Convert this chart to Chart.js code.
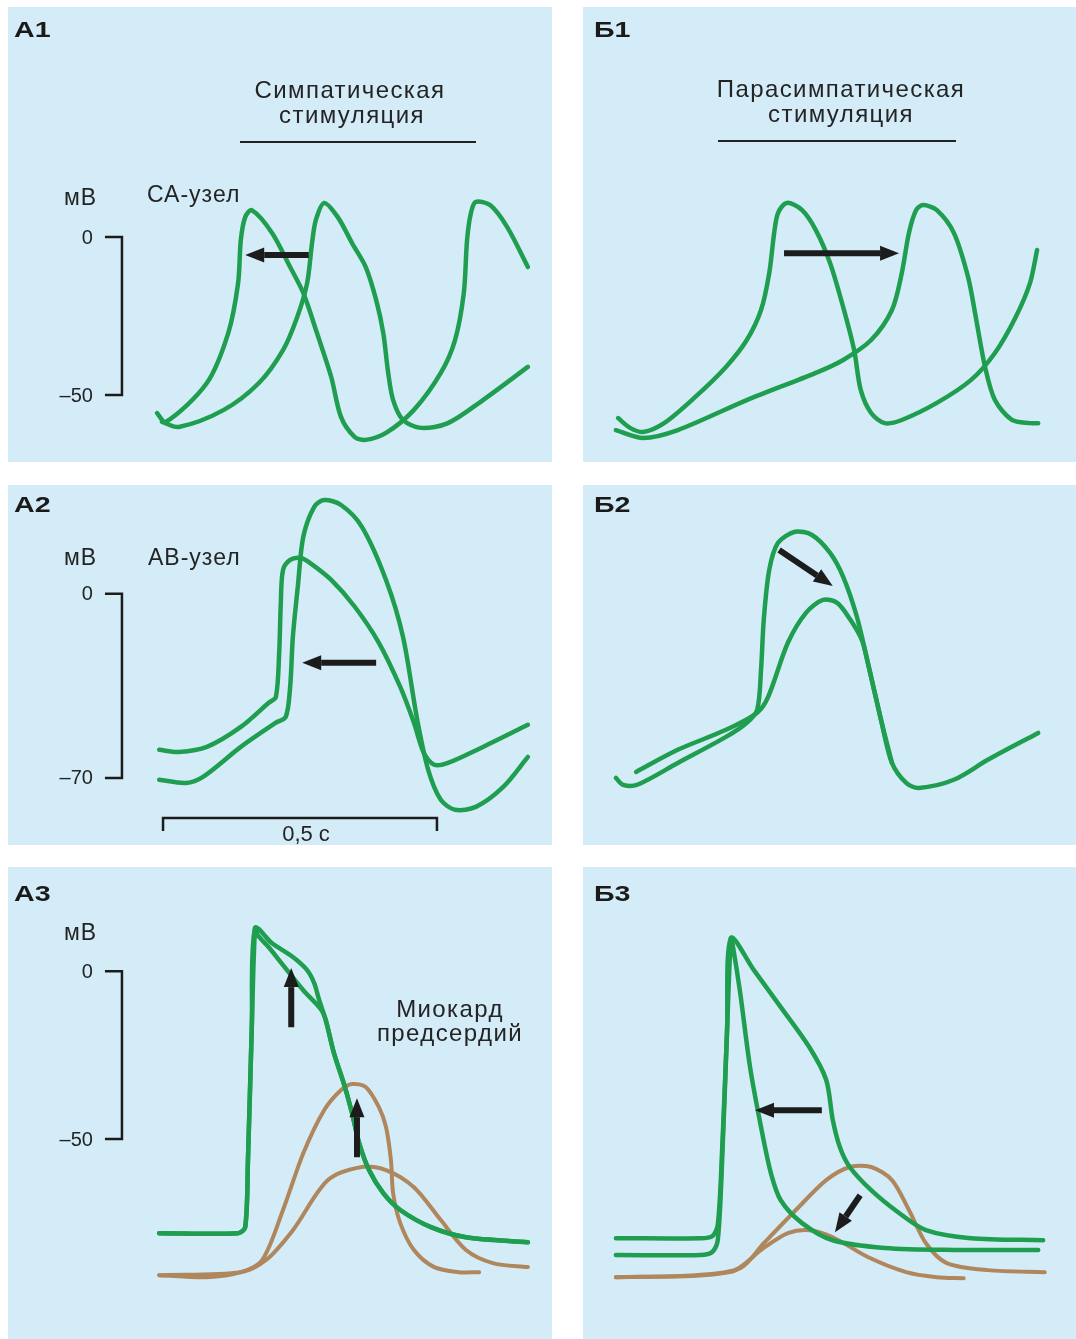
<!DOCTYPE html>
<html lang="ru">
<head>
<meta charset="utf-8">
<title>Потенциалы действия при вегетативной стимуляции</title>
<script src="https://cdn.jsdelivr.net/npm/chart.js@4.4.1/dist/chart.umd.min.js"></script>
<style>
  html, body { margin: 0; padding: 0; background: #fff; }
  body { width: 1076px; height: 1339px; position: relative; overflow: hidden;
         font-family: "Liberation Sans", Arial, Helvetica, sans-serif; color: #242424; }
  .panel { position: absolute; background: #d3ecf8; }
  .panel canvas { position: absolute; left: 0; top: 0; }
  .lbl { position: absolute; white-space: nowrap; line-height: 1; }
  .tag { font-weight: bold; font-size: 22px; color: #1a1a1a; transform: scaleX(1.3); transform-origin: left top; }
  .cap { font-size: 24px; letter-spacing: 1.4px; transform: translateX(-50%); }
  .unit { font-size: 23px; letter-spacing: 1px; }
  .stim { position: absolute; height: 2px; background: #222; }
</style>
</head>
<body>

<div class="panel" style="left:8px;top:7px;width:544px;height:455px"><canvas id="a1" width="544" height="455"></canvas></div>
<div class="panel" style="left:583px;top:7px;width:493px;height:455px"><canvas id="b1" width="493" height="455"></canvas></div>
<div class="panel" style="left:8px;top:485px;width:544px;height:360px"><canvas id="a2" width="544" height="360"></canvas></div>
<div class="panel" style="left:583px;top:485px;width:493px;height:360px"><canvas id="b2" width="493" height="360"></canvas></div>
<div class="panel" style="left:8px;top:867px;width:544px;height:472px"><canvas id="a3" width="544" height="472"></canvas></div>
<div class="panel" style="left:583px;top:867px;width:493px;height:472px"><canvas id="b3" width="493" height="472"></canvas></div>

<div class="lbl tag" style="left:14px;top:19px">А1</div>
<div class="lbl tag" style="left:594px;top:19px">Б1</div>
<div class="lbl tag" style="left:14px;top:494px">А2</div>
<div class="lbl tag" style="left:594px;top:494px">Б2</div>
<div class="lbl tag" style="left:14px;top:883px">А3</div>
<div class="lbl tag" style="left:594px;top:883px">Б3</div>

<div class="lbl cap" style="left:350px;top:78px">Симпатическая</div>
<div class="lbl cap" style="left:352px;top:103px">стимуляция</div>
<div class="stim" style="left:240px;top:141px;width:236px"></div>

<div class="lbl cap" style="left:841px;top:77px">Парасимпатическая</div>
<div class="lbl cap" style="left:841px;top:102px">стимуляция</div>
<div class="stim" style="left:718px;top:140px;width:238px"></div>

<div class="lbl unit" style="left:64px;top:186px">мВ</div>
<div class="lbl unit" style="left:147px;top:183px">СА-узел</div>
<div class="lbl unit" style="left:64px;top:546px">мВ</div>
<div class="lbl unit" style="left:148px;top:546px">АВ-узел</div>
<div class="lbl unit" style="left:64px;top:921px">мВ</div>
<div class="lbl cap" style="left:450px;top:997px">Миокард</div>
<div class="lbl cap" style="left:450px;top:1021px">предсердий</div>

<script>
// Время в мс (0 = начало отметки 0,5 с), потенциал в мВ.
// Коричневые кривые - сила сокращения, в тех же условных единицах по вертикали.

const GREEN = "#1f9e50";
const BROWN = "#b0875c";
const INK = "#1c1c1c";

// границы шкал для каждой колонки / строки
const xRangeA = [-283, 710];
const xRangeB = [-283, 617];
const yRangeRow1 = [-71.2, 72.8];
const yRangeRow2 = [-95.5, 41.4];
const yRangeRow3 = [-109.5, 31.0];

const ticksRow1 = [0, -50];
const ticksRow2 = [0, -70];
const ticksRow3 = [0, -50];
const timeBar = [0, 500];

/* ---------- А1: СА-узел, симпатическая стимуляция ---------- */
const a1Control = [[-2,-58.5],[29,-60.1],[111,-54.7],[175,-46.2],[219,-35.8],[245,-25.3],[263,-14.6],[272,-1.9],[279,5.4],[294,10.8],[319,6.3],[345,-1.9],[370,-9.5],[389,-19.9],[402,-30.4],[411,-43.0],[420,-51.6],[438,-57.9],[471,-60.4],[520,-58.9],[584,-51.6],[666,-41.1]];
const a1Symp = [[-11,-55.7],[5,-58.5],[80,-46.2],[119,-30.4],[137,-14.6],[142,-0.9],[150,6.3],[162,8.5],[199,1.3],[232,-9.5],[256,-17.7],[281,-30.4],[307,-44.3],[325,-57.0],[350,-63.3],[370,-64.2],[407,-62.0],[458,-54.7],[507,-43.0],[533,-32.6],[549,-17.7],[555,-0.9],[562,7.6],[571,11.1],[597,10.1],[628,3.2],[666,-9.5]];
const a1Arrows = [[[266,-5.7],[150,-5.7]]];

/* ---------- Б1: СА-узел, парасимпатическая стимуляция ---------- */
const b1Control = [[-219,-57.3],[-197,-60.4],[-173,-61.7],[-135,-58.9],[-78,-50.6],[-22,-41.1],[16,-32.6],[42,-23.1],[57,-11.4],[66,1.3],[73,7.6],[89,10.8],[117,8.5],[142,2.2],[168,-8.2],[192,-22.2],[212,-35.8],[224,-48.4],[243,-55.7],[268,-58.9],[299,-57.9],[363,-52.5],[425,-45.3],[469,-36.7],[507,-25.3],[533,-14.6],[546,-4.1]];
const b1Vagal = [[-223,-61.1],[-173,-63.6],[-110,-61.1],[16,-51.6],[142,-43.0],[192,-38.9],[243,-32.6],[281,-23.1],[299,-11.4],[312,1.3],[325,8.5],[338,10.1],[363,8.5],[394,1.3],[420,-12.7],[434,-25.3],[451,-41.1],[469,-51.6],[500,-57.9],[533,-58.9],[548,-58.9]];
const b1Arrows = [[[84,-5.1],[294,-5.1]]];

/* ---------- А2: АВ-узел ---------- */
const a2Control = [[-7,-70.7],[42,-71.9],[73,-69.6],[142,-58.2],[206,-49.0],[224,-46.8],[232,-35.4],[237,-16.3],[246,2.7],[256,21.7],[276,33.1],[294,35.7],[325,33.8],[363,25.5],[407,5.3],[438,-16.3],[464,-47.9],[484,-66.9],[507,-78.3],[533,-82.1],[571,-81.0],[621,-73.4],[666,-62.0]];
const a2Symp = [[-7,-59.3],[29,-60.1],[80,-58.2],[142,-50.6],[193,-41.4],[206,-39.2],[212,-22.4],[215,-3.4],[219,9.1],[232,12.9],[250,13.7],[268,11.8],[307,5.3],[350,-4.9],[394,-18.6],[433,-35.4],[458,-49.0],[476,-60.5],[495,-65.0],[520,-64.3],[584,-58.2],[666,-49.8]];
const a2Arrows = [[[389,-26.2],[254,-26.2]]];

/* ---------- Б2: АВ-узел ---------- */
const b2Control = [[-223,-70.0],[-210,-72.6],[-184,-72.6],[-110,-64.3],[-22,-54.4],[16,-49.0],[35,-44.1],[42,-28.9],[47,-9.9],[57,9.1],[73,19.4],[104,23.6],[135,22.4],[168,15.6],[192,6.5],[217,-8.7],[237,-26.2],[261,-47.9],[281,-64.3],[307,-71.9],[330,-73.8],[394,-70.7],[456,-63.1],[548,-52.9]];
const b2Vagal = [[-186,-67.7],[-110,-59.3],[-22,-51.7],[35,-45.2],[55,-39.2],[91,-18.6],[124,-7.2],[155,-2.3],[181,-3.4],[204,-9.5],[226,-17.5],[237,-26.2],[261,-47.9],[281,-64.3]];
const b2Arrows = [[[75,16.7],[173,3.0]]];

/* ---------- А3: миокард предсердий ---------- */
const a3Control = [[-7,-78.0],[137,-78.0],[150,-76.2],[155,-56.3],[162,-16.7],[168,12.8],[173,10.7],[193,7.1],[219,1.8],[256,-5.7],[288,-11.3],[297,-14.6],[312,-24.4],[332,-34.5],[345,-42.3],[358,-51.2],[376,-59.2],[402,-66.1],[433,-71.1],[489,-76.2],[553,-79.2],[666,-80.7]];
const a3Symp = [[-7,-78.0],[137,-78.0],[150,-76.2],[155,-56.3],[162,-16.7],[168,12.8],[199,8.3],[237,4.2],[263,0.3],[276,-3.6],[285,-8.6],[297,-14.6],[312,-24.4],[332,-34.5],[345,-42.3],[358,-51.2],[376,-59.2],[402,-66.1],[433,-71.1],[489,-76.2],[553,-79.2],[666,-80.7]];
const a3ForceControl = [[-7,-90.5],[142,-89.6],[188,-86.0],[237,-77.1],[301,-62.2],[363,-58.3],[407,-59.2],[458,-64.3],[507,-74.1],[553,-83.0],[602,-86.9],[666,-88.1]];
const a3ForceSymp = [[-7,-90.5],[80,-91.1],[142,-89.6],[181,-86.0],[219,-71.1],[256,-54.2],[294,-41.4],[325,-35.4],[345,-33.6],[370,-34.5],[394,-40.5],[407,-46.4],[416,-56.3],[420,-66.1],[433,-75.0],[458,-83.0],[495,-88.1],[540,-89.6],[577,-89.6]];
const a3Arrows = [[[234,-16.7],[234,0.9]], [[354,-55.4],[354,-37.8]]];

/* ---------- Б3: миокард предсердий ---------- */
const b3Control = [[-223,-79.5],[-69,-79.5],[-47,-78.9],[-37,-75.6],[-29,-53.3],[-20,-17.6],[-13,9.8],[29,0.3],[78,-10.7],[130,-22.6],[161,-32.4],[173,-44.3],[186,-52.4],[204,-58.3],[243,-65.2],[294,-72.0],[343,-77.1],[425,-79.5],[557,-80.1]];
const b3Vagal = [[-223,-84.5],[-69,-84.5],[-47,-83.6],[-37,-80.1],[-29,-56.3],[-20,-17.6],[-13,9.8],[-9,7.1],[4,-6.5],[22,-28.6],[42,-46.4],[60,-60.1],[78,-68.2],[117,-75.0],[173,-80.1],[268,-82.4],[394,-83.0],[548,-83.0]];
const b3ForceControl = [[-223,-91.1],[-78,-90.5],[4,-88.4],[47,-81.0],[111,-70.2],[161,-62.2],[204,-58.3],[243,-58.3],[281,-62.2],[312,-71.1],[343,-81.0],[381,-86.9],[456,-89.0],[560,-89.6]];
const b3ForceVagal = [[-223,-91.1],[-15,-89.6],[47,-82.4],[91,-78.0],[130,-77.1],[173,-79.2],[237,-85.1],[307,-89.6],[363,-91.1],[412,-91.4]];
const b3Arrows = [[[153,-41.4],[31,-41.4]], [[223,-66.7],[177,-77.7]]];

const pts = arr => arr.map(([x, y]) => ({ x, y }));
const fmtTick = v => (v < 0 ? "\u2013" + Math.abs(v) : String(v));

function drawArrow(ctx, x0, y0, x1, y1) {
  const ang = Math.atan2(y1 - y0, x1 - x0);
  const head = 19, half = 7.5;
  const bx = x1 - head * Math.cos(ang), by = y1 - head * Math.sin(ang);
  ctx.lineWidth = 6;
  ctx.lineCap = "butt";
  ctx.beginPath();
  ctx.moveTo(x0, y0);
  ctx.lineTo(bx, by);
  ctx.stroke();
  ctx.beginPath();
  ctx.moveTo(x1, y1);
  ctx.lineTo(bx + half * Math.sin(ang), by - half * Math.cos(ang));
  ctx.lineTo(bx - half * Math.sin(ang), by + half * Math.cos(ang));
  ctx.closePath();
  ctx.fill();
}

// стрелки, скобка шкалы мВ и отметка времени - всё через шкалы графика
function overlay(extra) {
  return {
    id: "overlay",
    afterDatasetsDraw(chart) {
      const { ctx, scales: { x, y } } = chart;
      ctx.save();
      ctx.strokeStyle = INK;
      ctx.fillStyle = INK;

      (extra.arrows || []).forEach(([from, to]) => {
        drawArrow(ctx, x.getPixelForValue(from[0]), y.getPixelForValue(from[1]),
                       x.getPixelForValue(to[0]), y.getPixelForValue(to[1]));
      });

      if (extra.ticks) {
        const px = x.getPixelForValue(-75);
        const top = y.getPixelForValue(Math.max(...extra.ticks));
        const bot = y.getPixelForValue(Math.min(...extra.ticks));
        ctx.lineWidth = 2.5;
        ctx.beginPath();
        ctx.moveTo(px - 17, top); ctx.lineTo(px, top);
        ctx.lineTo(px, bot); ctx.lineTo(px - 17, bot);
        ctx.stroke();
        ctx.fillStyle = "#242424";
        ctx.font = '20px "Liberation Sans", Arial, sans-serif';
        ctx.textAlign = "right";
        ctx.textBaseline = "middle";
        extra.ticks.forEach(v => ctx.fillText(fmtTick(v), px - 29, y.getPixelForValue(v) + 1));
      }

      if (extra.timeBar) {
        const l = x.getPixelForValue(extra.timeBar[0]);
        const r = x.getPixelForValue(extra.timeBar[1]);
        const yy = y.getPixelForValue(-85.2);
        ctx.lineWidth = 2.5;
        ctx.beginPath();
        ctx.moveTo(l, yy + 13); ctx.lineTo(l, yy);
        ctx.lineTo(r, yy); ctx.lineTo(r, yy + 13);
        ctx.stroke();
        ctx.fillStyle = "#242424";
        ctx.font = '22px "Liberation Sans", Arial, sans-serif';
        ctx.textAlign = "center";
        ctx.textBaseline = "alphabetic";
        ctx.fillText("0,5 с", (l + r) / 2 + 6, yy + 23);
      }
      ctx.restore();
    }
  };
}

function makePanel(id, xRange, yRange, series, extra) {
  return new Chart(document.getElementById(id), {
    type: "scatter",
    data: {
      datasets: series.map(s => ({
        label: s.label,
        data: pts(s.data),
        showLine: true,
        borderColor: s.color,
        borderWidth: s.color === GREEN ? 4.5 : 4,
        pointRadius: 0,
        tension: 0.3,
        borderCapStyle: "round",
        borderJoinStyle: "round",
        order: s.color === GREEN ? 0 : 1
      }))
    },
    options: {
      responsive: false,
      animation: false,
      layout: { padding: 0 },
      plugins: { legend: { display: false }, tooltip: { enabled: false } },
      scales: {
        x: { type: "linear", min: xRange[0], max: xRange[1], display: false },
        y: { type: "linear", min: yRange[0], max: yRange[1], display: false }
      }
    },
    plugins: [overlay(extra)]
  });
}

makePanel("a1", xRangeA, yRangeRow1, [
  { label: "Контроль", data: a1Control, color: GREEN },
  { label: "Симпатическая стимуляция", data: a1Symp, color: GREEN }
], { arrows: a1Arrows, ticks: ticksRow1 });

makePanel("b1", xRangeB, yRangeRow1, [
  { label: "Контроль", data: b1Control, color: GREEN },
  { label: "Парасимпатическая стимуляция", data: b1Vagal, color: GREEN }
], { arrows: b1Arrows });

makePanel("a2", xRangeA, yRangeRow2, [
  { label: "Контроль", data: a2Control, color: GREEN },
  { label: "Симпатическая стимуляция", data: a2Symp, color: GREEN }
], { arrows: a2Arrows, ticks: ticksRow2, timeBar: timeBar });

makePanel("b2", xRangeB, yRangeRow2, [
  { label: "Контроль", data: b2Control, color: GREEN },
  { label: "Парасимпатическая стимуляция", data: b2Vagal, color: GREEN }
], { arrows: b2Arrows });

makePanel("a3", xRangeA, yRangeRow3, [
  { label: "ПД, контроль", data: a3Control, color: GREEN },
  { label: "ПД, симпатическая стимуляция", data: a3Symp, color: GREEN },
  { label: "Сокращение, контроль", data: a3ForceControl, color: BROWN },
  { label: "Сокращение, симпатическая стимуляция", data: a3ForceSymp, color: BROWN }
], { arrows: a3Arrows, ticks: ticksRow3 });

makePanel("b3", xRangeB, yRangeRow3, [
  { label: "ПД, контроль", data: b3Control, color: GREEN },
  { label: "ПД, парасимпатическая стимуляция", data: b3Vagal, color: GREEN },
  { label: "Сокращение, контроль", data: b3ForceControl, color: BROWN },
  { label: "Сокращение, парасимпатическая стимуляция", data: b3ForceVagal, color: BROWN }
], { arrows: b3Arrows });
</script>
</body>
</html>
